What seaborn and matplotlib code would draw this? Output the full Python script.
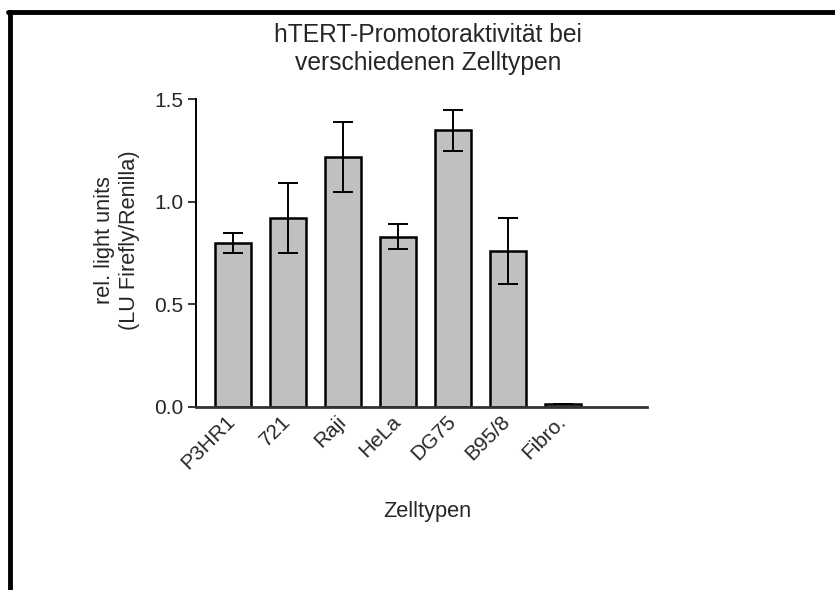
import pandas as pd
import numpy as np
import matplotlib
matplotlib.use("Agg")
import matplotlib.pyplot as plt
import matplotlib.transforms as mtransforms
import seaborn as sns
from matplotlib.lines import Line2D

sns.set_style("white")
plt.rcParams["font.family"] = ["Liberation Sans", "DejaVu Sans"]

zelltypen = ["P3HR1", "721", "Raji", "HeLa", "DG75", "B95/8", "Fibro."]
mittelwert = [0.80, 0.92, 1.22, 0.83, 1.35, 0.76, 0.01]
fehler = [0.05, 0.17, 0.17, 0.06, 0.10, 0.16, 0.0]

df = pd.DataFrame({"Zelltyp": zelltypen, "RLU": mittelwert})

fig = plt.figure(figsize=(8.35, 5.9), dpi=100)
ax = fig.add_axes([0.2347, 0.311, 0.540, 0.5204])

sns.barplot(data=df, x="Zelltyp", y="RLU", color="#c0c0c0", saturation=1,
            width=0.65, edgecolor="black", linewidth=1.8, ax=ax)
ax.errorbar(np.arange(len(zelltypen)), mittelwert, yerr=fehler, fmt="none",
            ecolor="black", elinewidth=1.4, capsize=7, capthick=1.4)

ax.set_xlim(-0.67, 7.53)
ax.set_ylim(0, 1.5)
ax.set_yticks([0.0, 0.5, 1.0, 1.5])
ax.set_yticklabels(["0.0", "0.5", "1.0", "1.5"])
ax.tick_params(axis="y", length=5.8, width=1.3, labelsize=15, direction="out", left=True, pad=3.5)
ax.tick_params(axis="x", length=0, labelsize=15, pad=4)
verschiebung = mtransforms.ScaledTranslation(-7 / 100, 0, fig.dpi_scale_trans)
for lbl in ax.get_xticklabels():
    lbl.set_rotation(45)
    lbl.set_ha("right")
    lbl.set_rotation_mode("anchor")
    lbl.set_transform(lbl.get_transform() + verschiebung)

sns.despine(ax=ax)
ax.spines["left"].set_linewidth(1.4)
ax.spines["left"].set_color("black")
ax.spines["bottom"].set_linewidth(2)
ax.spines["bottom"].set_color("#333333")

ax.set_xlabel("")
ax.set_ylabel("")
fig.text(427 / 835, 1 - 512 / 590, "Zelltypen", fontsize=15.7, ha="center", va="center")
fig.text(117 / 835, 1 - 240 / 590, "rel. light units\n(LU Firefly/Renilla)", fontsize=15.7,
         rotation=90, ha="center", va="center", multialignment="center")
fig.text(427.7 / 835, 1 - 70 / 590, "hTERT-Promotoraktivität bei\nverschiedenen Zelltypen",
         fontsize=17.7, ha="center", va="baseline", multialignment="center")

# Rahmen oben und links
fig.add_artist(Line2D([0.0096, 1.0], [0.9805, 0.9805], color="black", lw=3.5))
fig.add_artist(Line2D([0.0114, 0.0114], [0.0, 0.9805], color="black", lw=3.5))

fig.savefig("out.png", dpi=100)
